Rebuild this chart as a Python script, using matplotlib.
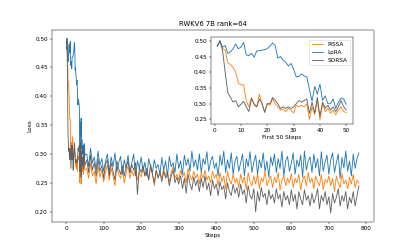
import numpy as np
import matplotlib
matplotlib.use('Agg')
import matplotlib.pyplot as plt

# loss for the first 50 steps (step 1..50)
pissa_first50 = [0.483, 0.500, 0.475, 0.470, 0.430, 0.425, 0.415, 0.400, 0.365, 0.360,
                 0.360, 0.310, 0.290, 0.320, 0.295, 0.290, 0.330, 0.300, 0.275, 0.300,
                 0.295, 0.315, 0.300, 0.290, 0.280, 0.283, 0.275, 0.285, 0.280, 0.270,
                 0.295, 0.290, 0.295, 0.290, 0.300, 0.250, 0.290, 0.265, 0.310, 0.248,
                 0.300, 0.275, 0.285, 0.270, 0.280, 0.265, 0.280, 0.290, 0.275, 0.272]
lora_first50 = [0.483, 0.500, 0.480, 0.485, 0.460, 0.465, 0.475, 0.490, 0.475, 0.480,
                0.495, 0.455, 0.453, 0.460, 0.448, 0.468, 0.468, 0.470, 0.472, 0.475,
                0.483, 0.493, 0.485, 0.445, 0.450, 0.438, 0.432, 0.420, 0.428, 0.410,
                0.385, 0.387, 0.395, 0.388, 0.385, 0.345, 0.308, 0.355, 0.330, 0.362,
                0.310, 0.325, 0.300, 0.300, 0.315, 0.285, 0.305, 0.318, 0.315, 0.298]
sorsa_first50 = [0.483, 0.500, 0.470, 0.400, 0.335, 0.320, 0.305, 0.310, 0.290, 0.298,
                 0.308, 0.290, 0.275, 0.315, 0.300, 0.290, 0.315, 0.300, 0.272, 0.300,
                 0.300, 0.320, 0.310, 0.300, 0.285, 0.290, 0.285, 0.290, 0.285, 0.290,
                 0.300, 0.310, 0.305, 0.310, 0.315, 0.270, 0.305, 0.270, 0.320, 0.260,
                 0.305, 0.285, 0.295, 0.280, 0.290, 0.275, 0.290, 0.310, 0.290, 0.280]

# loss sampled every 5 steps from step 55 to 780
pissa_later = [0.275, 0.258, 0.285, 0.262, 0.270, 0.248, 0.280, 0.260, 0.272, 0.252,
               0.268, 0.282, 0.255, 0.275, 0.262, 0.245, 0.278, 0.265, 0.258, 0.272,
               0.250, 0.268, 0.280, 0.258, 0.272, 0.262, 0.276, 0.255, 0.268, 0.260,
               0.275, 0.262, 0.270, 0.255, 0.278, 0.265, 0.245, 0.272, 0.260, 0.268,
               0.258, 0.275, 0.262, 0.270, 0.252, 0.268, 0.278, 0.258, 0.265, 0.255,
               0.272, 0.260, 0.268, 0.250, 0.275, 0.262, 0.255, 0.270, 0.258, 0.265,
               0.248, 0.268, 0.258, 0.272, 0.255, 0.262, 0.250, 0.270, 0.258, 0.265,
               0.245, 0.268, 0.252, 0.262, 0.240, 0.270, 0.255, 0.248, 0.265, 0.250,
               0.258, 0.242, 0.265, 0.250, 0.260, 0.238, 0.268, 0.252, 0.245, 0.262,
               0.248, 0.265, 0.240, 0.258, 0.252, 0.270, 0.245, 0.255, 0.262, 0.242,
               0.260, 0.250, 0.268, 0.238, 0.255, 0.262, 0.245, 0.258, 0.250, 0.266,
               0.242, 0.258, 0.250, 0.265, 0.238, 0.255, 0.262, 0.245, 0.268, 0.250,
               0.258, 0.240, 0.262, 0.252, 0.245, 0.265, 0.238, 0.256, 0.250, 0.262,
               0.245, 0.258, 0.235, 0.262, 0.250, 0.242, 0.266, 0.248, 0.255, 0.240,
               0.260, 0.248, 0.265, 0.242, 0.255, 0.250]
lora_later = [0.300, 0.278, 0.310, 0.285, 0.295, 0.272, 0.305, 0.280, 0.292, 0.270,
              0.288, 0.300, 0.268, 0.295, 0.278, 0.302, 0.270, 0.285, 0.296, 0.265,
              0.290, 0.275, 0.298, 0.268, 0.285, 0.300, 0.262, 0.288, 0.275, 0.295,
              0.270, 0.286, 0.262, 0.292, 0.278, 0.268, 0.290, 0.275, 0.282, 0.265,
              0.294, 0.272, 0.288, 0.262, 0.296, 0.278, 0.285, 0.268, 0.300, 0.275,
              0.288, 0.265, 0.298, 0.280, 0.292, 0.270, 0.305, 0.278, 0.290, 0.272,
              0.300, 0.268, 0.292, 0.282, 0.304, 0.270, 0.288, 0.296, 0.275, 0.285,
              0.262, 0.298, 0.280, 0.305, 0.268, 0.290, 0.275, 0.302, 0.265, 0.288,
              0.296, 0.270, 0.285, 0.300, 0.262, 0.292, 0.278, 0.304, 0.268, 0.286,
              0.298, 0.265, 0.290, 0.276, 0.302, 0.270, 0.288, 0.260, 0.295, 0.280,
              0.300, 0.268, 0.292, 0.275, 0.305, 0.262, 0.288, 0.296, 0.270, 0.284,
              0.302, 0.265, 0.290, 0.278, 0.298, 0.260, 0.305, 0.272, 0.288, 0.295,
              0.268, 0.300, 0.276, 0.292, 0.262, 0.304, 0.270, 0.286, 0.298, 0.265,
              0.290, 0.302, 0.268, 0.285, 0.300, 0.258, 0.294, 0.276, 0.305, 0.270,
              0.288, 0.262, 0.300, 0.275, 0.292, 0.302]
sorsa_later = [0.290, 0.268, 0.298, 0.272, 0.285, 0.262, 0.292, 0.270, 0.280, 0.258,
               0.282, 0.290, 0.262, 0.285, 0.270, 0.255, 0.288, 0.275, 0.265, 0.280,
               0.262, 0.278, 0.288, 0.268, 0.282, 0.272, 0.285, 0.230, 0.276, 0.268,
               0.280, 0.262, 0.275, 0.255, 0.282, 0.265, 0.250, 0.272, 0.258, 0.268,
               0.252, 0.270, 0.258, 0.265, 0.245, 0.262, 0.272, 0.250, 0.260, 0.248,
               0.262, 0.240, 0.258, 0.232, 0.265, 0.248, 0.238, 0.260, 0.245, 0.255,
               0.235, 0.258, 0.242, 0.262, 0.238, 0.250, 0.228, 0.255, 0.240, 0.248,
               0.228, 0.252, 0.238, 0.245, 0.222, 0.250, 0.235, 0.228, 0.248, 0.232,
               0.242, 0.225, 0.248, 0.230, 0.238, 0.215, 0.245, 0.228, 0.222, 0.240,
               0.200, 0.235, 0.218, 0.242, 0.225, 0.232, 0.212, 0.238, 0.222, 0.230,
               0.215, 0.240, 0.222, 0.230, 0.208, 0.235, 0.220, 0.228, 0.212, 0.238,
               0.218, 0.230, 0.205, 0.235, 0.222, 0.212, 0.238, 0.220, 0.228, 0.210,
               0.232, 0.215, 0.225, 0.240, 0.205, 0.228, 0.218, 0.235, 0.212, 0.226,
               0.198, 0.232, 0.215, 0.225, 0.240, 0.210, 0.228, 0.218, 0.235, 0.205,
               0.225, 0.215, 0.235, 0.210, 0.228, 0.245]

steps_first50 = np.arange(1, 51)
steps_later = np.arange(55, 781, 5)
steps = np.concatenate([steps_first50, steps_later])

pissa = np.concatenate([pissa_first50, pissa_later])
lora = np.concatenate([lora_first50, lora_later])
sorsa = np.concatenate([sorsa_first50, sorsa_later])

c_pissa = '#ff7f0e'
c_lora = '#1f77b4'
c_sorsa = '#606060'

fig = plt.figure(figsize=(10, 6), dpi=41.5)
ax = fig.add_subplot(111)
ax.plot(steps, pissa, color=c_pissa, label='PiSSA')
ax.plot(steps, lora, color=c_lora, label='LoRA')
ax.plot(steps, sorsa, color=c_sorsa, label='SORSA')
ax.set_title('RWKV6 7B rank=64')
ax.set_xlabel('Steps')
ax.set_ylabel('Loss')

ins = fig.add_axes([0.508, 0.502, 0.342, 0.35])
ins.plot(steps_first50, pissa_first50, color=c_pissa, label='PiSSA')
ins.plot(steps_first50, lora_first50, color=c_lora, label='LoRA')
ins.plot(steps_first50, sorsa_first50, color=c_sorsa, label='SORSA')
ins.set_xlabel('First 50 Steps')
ins.legend(loc='upper right')

fig.savefig('out.png', dpi=41.5)
